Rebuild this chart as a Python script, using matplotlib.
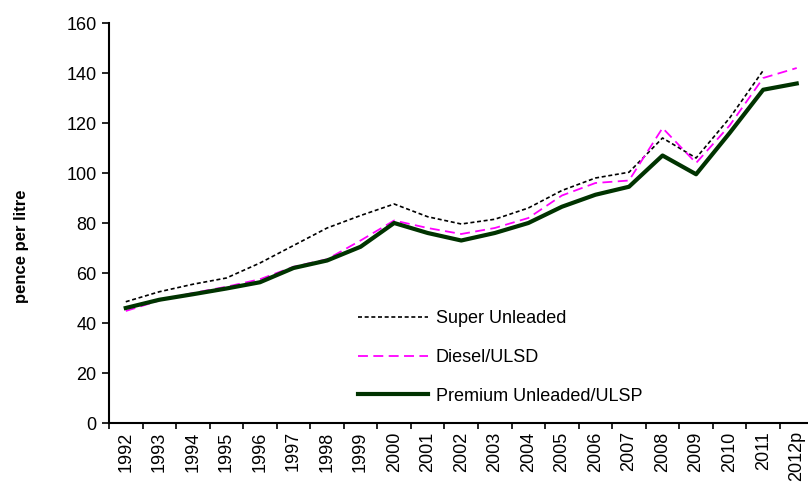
import matplotlib
matplotlib.use("Agg")
import matplotlib.pyplot as plt
import numpy as np

plt.rcParams['font.family'] = ['Liberation Sans', 'DejaVu Sans']

years = ['1992', '1993', '1994', '1995', '1996', '1997', '1998', '1999', '2000', '2001',
         '2002', '2003', '2004', '2005', '2006', '2007', '2008', '2009', '2010', '2011', '2012p']
super_unleaded = [48.5, 52.5, 55.5, 58, 64, 71, 78, 83, 87.6, 82.5,
                  79.6, 81.5, 86, 93, 98, 100.3, 114, 106, 122, 141, None]
diesel = [44.8, 49, 52, 54.5, 57.5, 62.5, 65.5, 73, 81, 78,
          75.6, 78, 82, 91, 96, 97, 118, 104, 119, 138, 142]
premium = [46, 49.3, 51.5, 53.8, 56.3, 62, 65, 70.5, 80, 76,
           73, 76, 80, 86.5, 91.3, 94.5, 107, 99.5, 116, 133.3, 135.8]

fig = plt.figure(figsize=(8.08, 4.94), dpi=100)
ax = fig.add_axes([109/808, 71/494, 704.5/808, 400/494])

x = np.arange(len(years))
su = np.array([np.nan if v is None else v for v in super_unleaded], dtype=float)
ax.plot(x, su, color='black', lw=1.2, linestyle=(0, (2.4, 1.6)), label='Super Unleaded')
ax.plot(x, diesel, color='#FF00FF', lw=1.3, linestyle=(0, (5.5, 3)), label='Diesel/ULSD')
ax.plot(x, premium, color='#003300', lw=3, label='Premium Unleaded/ULSP')

ax.set_xlim(-0.5, len(years) - 0.5)
ax.set_ylim(0, 160)
ax.set_yticks(np.arange(0, 161, 20))
ax.set_xticks(x)
ax.set_xticklabels(years, rotation=90, fontsize=13)
ax.set_xticks(np.arange(-0.5, len(years), 1), minor=True)
ax.tick_params(axis='x', which='major', length=0, pad=6)
ax.tick_params(axis='x', which='minor', length=4, width=1.2, direction='out')
ax.tick_params(axis='y', length=5, width=1.2, direction='out', labelsize=13, pad=4)
for s in ['top', 'right']:
    ax.spines[s].set_visible(False)
for s in ['left', 'bottom']:
    ax.spines[s].set_linewidth(1.5)
ax.set_ylabel('pence per litre', fontsize=12, fontweight='bold')
ax.yaxis.set_label_coords(-0.114, 0.4425)

ax.legend(loc='upper left', bbox_to_anchor=(0.343, 0.30), frameon=False, fontsize=13,
          handlelength=3.9, labelspacing=1.2, handletextpad=0.4, borderaxespad=0)

fig.savefig('out.png', dpi=100)
